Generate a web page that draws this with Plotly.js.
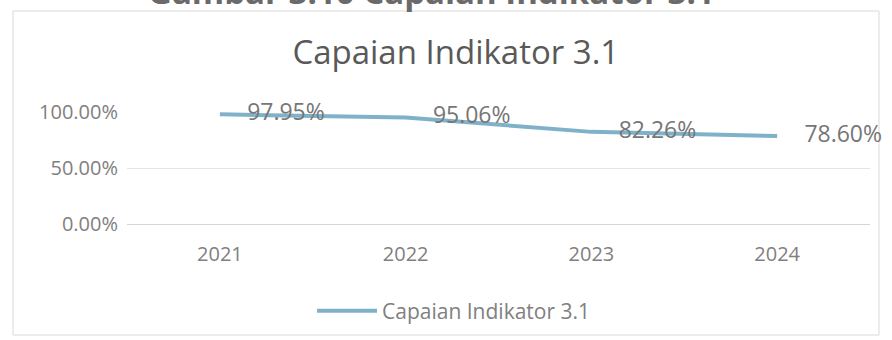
<!DOCTYPE html>
<html>
<head>
<meta charset="utf-8">
<script src="https://cdn.plot.ly/plotly-3.0.1.min.js"></script>
<style>
  html, body { margin: 0; padding: 0; background: #ffffff; }
  #chart { width: 892px; height: 340px; }
</style>
</head>
<body>
<div id="chart"></div>
<script>
const years = ['2021', '2022', '2023', '2024'];
const values = [97.95, 95.06, 82.26, 78.60];
const seriesName = 'Capaian Indikator 3.1';
const chartTitle = 'Capaian Indikator 3.1';
const captionText = 'Gambar 3.10 Capaian Indikator 3.1';
const yTickValues = [0, 50, 100];
const yTickLabels = ['0.00%', '50.00%', '100.00%'];

const FONT = 'Open Sans, Lato, sans-serif';

const lineTrace = {
  type: 'scatter',
  mode: 'lines',
  x: years,
  y: values,
  name: seriesName,
  line: { color: '#7fb2c8', width: 4 },
  hoverinfo: 'skip'
};

const labelTrace = {
  type: 'scatter',
  mode: 'markers+text',
  x: years,
  y: values,
  text: values.map(v => v.toFixed(2) + '%'),
  textposition: 'middle right',
  textfont: { family: FONT, size: 23, color: '#767676' },
  marker: { size: 42, color: 'rgba(0,0,0,0)', line: { width: 0 } },
  showlegend: false,
  hoverinfo: 'skip',
  cliponaxis: false
};

const layout = {
  width: 892,
  height: 340,
  paper_bgcolor: '#ffffff',
  plot_bgcolor: '#ffffff',
  margin: { l: 127, r: 22, t: 112, b: 116 },
  title: {
    text: chartTitle,
    font: { family: FONT, size: 33, color: '#595959' },
    xref: 'container',
    yref: 'container',
    x: 0.511,
    xanchor: 'center',
    y: 1 - 52 / 340,
    yanchor: 'middle'
  },
  xaxis: {
    type: 'category',
    range: [-0.5, 3.5],
    showgrid: false,
    zeroline: false,
    showline: false,
    ticks: '',
    ticklabelstandoff: 16,
    tickfont: { family: FONT, size: 20, color: '#808080' }
  },
  yaxis: {
    range: [0, 100],
    tickvals: yTickValues,
    ticktext: yTickLabels,
    showgrid: true,
    gridcolor: '#e4e4e4',
    gridwidth: 1,
    zeroline: true,
    zerolinecolor: '#d6d6d6',
    zerolinewidth: 1,
    showline: false,
    ticks: '',
    ticklabelstandoff: 8,
    tickfont: { family: FONT, size: 20, color: '#808080' }
  },
  showlegend: true,
  legend: {
    orientation: 'h',
    xref: 'container',
    yref: 'container',
    x: 0.509,
    xanchor: 'center',
    y: 1 - 311 / 340,
    yanchor: 'middle',
    itemwidth: 60,
    font: { family: FONT, size: 21, color: '#808080' },
    bgcolor: 'rgba(0,0,0,0)'
  },
  annotations: [{
    xref: 'paper',
    yref: 'paper',
    x: (431 - 127) / 743,
    y: (224 - 16) / 112,
    xanchor: 'center',
    yanchor: 'bottom',
    text: '<b>' + captionText + '</b>',
    showarrow: false,
    font: { family: FONT, size: 33, color: '#6a6a6a' }
  }],
  shapes: [{
    type: 'rect',
    xref: 'paper',
    yref: 'paper',
    x0: (13 - 127) / 743,
    x1: (879 - 127) / 743,
    y0: (224 - 335) / 112,
    y1: (224 - 11) / 112,
    line: { color: '#d9d9d9', width: 1 },
    fillcolor: 'rgba(0,0,0,0)',
    layer: 'below'
  }]
};

Plotly.newPlot('chart', [lineTrace, labelTrace], layout, { displayModeBar: false, staticPlot: true });
</script>
</body>
</html>
